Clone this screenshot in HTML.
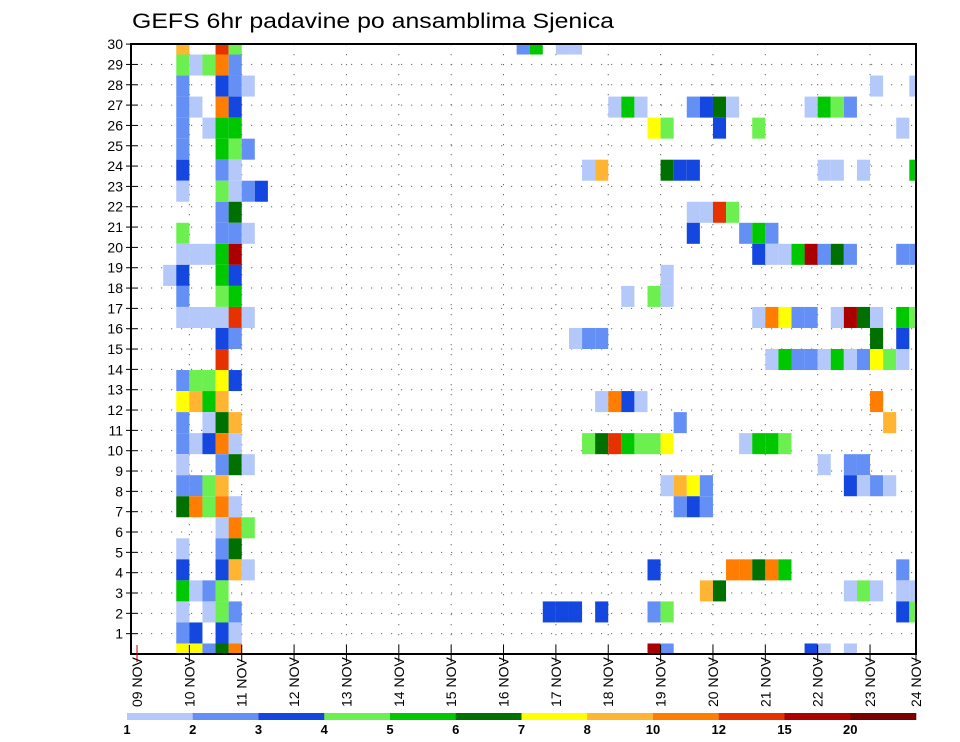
<!DOCTYPE html>
<html><head><meta charset="utf-8"><style>
html,body{margin:0;padding:0;background:#fff;}
svg{display:block;font-family:"Liberation Sans","DejaVu Sans",sans-serif;}
</style></head><body>
<svg id="chart" width="960" height="742" viewBox="0 0 960 742" xmlns="http://www.w3.org/2000/svg">
<text x="132" y="28" font-size="21" fill="#000" textLength="482" lengthAdjust="spacingAndGlyphs">GEFS 6hr padavine po ansamblima Sjenica</text>
<g id="grid"></g>
<g id="cells"></g>
<g id="axes"></g>
<g id="legend"></g>
</svg>
<script>
// ---- data ----
const members = ["30","29","28","27","26","25","24","23","22","21","20","19","18","17","16","15","14","13","12","11","10","9","8","7","6","5","4","3","2","1"];
const dayLabels = ["09 NOV","10 NOV","11 NOV","12 NOV","13 NOV","14 NOV","15 NOV","16 NOV","17 NOV","18 NOV","19 NOV","20 NOV","21 NOV","22 NOV","23 NOV","24 NOV"];
const legendLabels = ["1","2","3","4","5","6","7","8","10","12","15","20"];
const levelColors = ["#b4c8fa","#6490f5","#1446e0","#6cf050","#00c800","#007000","#ffff00","#ffb432","#ff7d00","#e63200","#aa0000","#780000"];
const levelCodes = "123456789ABC";
// each row (top to bottom): "timestep:level" pairs, timestep = 6-hourly index from 09 NOV 00z
const rows = [
"3:8 6:A 7:4 29:2 30:5 32:1 33:1",
"3:4 4:1 5:4 6:9 7:2",
"3:2 6:3 7:2 8:1 56:1 59:1",
"3:2 4:1 6:9 7:3 36:1 37:5 38:1 42:2 43:3 44:6 45:1 51:1 52:5 53:4 54:2",
"3:2 5:1 6:5 7:5 39:7 40:4 44:3 47:4 58:1",
"3:2 6:5 7:4 8:2",
"3:3 6:2 7:1 34:1 35:8 40:6 41:3 42:3 52:1 53:1 55:1 59:5",
"3:1 6:4 7:1 8:2 9:3",
"6:2 7:6 42:1 43:1 44:A 45:4",
"3:4 6:2 7:2 8:1 42:3 46:2 47:5 48:2",
"3:1 4:1 5:1 6:5 7:B 47:3 48:1 49:1 50:5 51:B 52:2 53:6 54:2 58:2 59:2",
"2:1 3:3 6:5 7:3 40:1",
"3:2 6:4 7:5 37:1 39:4 40:1",
"3:1 4:1 5:1 6:1 7:A 8:1 47:1 48:9 49:7 50:2 51:2 53:1 54:B 55:6 56:1 58:5 59:4",
"6:3 7:2 33:1 34:2 35:2 56:6 58:3",
"6:A 48:1 49:5 50:2 51:2 52:1 53:5 54:1 55:2 56:7 57:4 58:1",
"3:2 4:4 5:4 6:7 7:3",
"3:7 4:8 5:5 6:8 35:1 36:9 37:3 38:1 56:9",
"3:2 5:1 6:6 7:8 41:2 57:8",
"3:2 4:1 5:3 6:9 7:1 34:4 35:6 36:A 37:5 38:4 39:4 40:7 46:1 47:5 48:5 49:4",
"3:1 6:2 7:6 8:1 52:1 54:2 55:2",
"3:2 4:2 5:4 6:8 40:1 41:8 42:7 43:2 54:3 55:1 56:2 57:1",
"3:6 4:9 5:4 6:9 7:1 41:2 42:3 43:2",
"6:1 7:9 8:4",
"3:1 6:2 7:6",
"3:3 6:3 7:8 8:1 39:3 45:9 46:9 47:6 48:9 49:5 58:2",
"3:5 4:1 5:2 6:4 43:8 44:6 54:1 55:4 56:1 58:1 59:1",
"3:1 5:1 6:4 7:2 31:3 32:3 33:3 35:3 39:2 40:4 58:3 59:4",
"3:2 4:3 6:3 7:1",
"3:7 4:7 5:2 6:6 7:9 39:B 40:2 51:3 52:1 54:1"
];

// ---- layout ----
const NS = "http://www.w3.org/2000/svg";
const L = 131, R = 916, T = 44, B = 654;
const x0 = 137, stepW = 13.09, dayW = 52.36;
const rowH = (B - T) / (rows.length - 1);
function xStep(k){ return x0 + stepW * k; }
function xDay(d){ return Math.min(x0 + dayW * d, R); }
function yRow(j){ return T + rowH * j; }
function yLabel(i){ return B - 20.33 * (members.length - i); }
function mk(tag, attrs, parent){
  const e = document.createElementNS(NS, tag);
  for (const k in attrs) e.setAttribute(k, attrs[k]);
  parent.appendChild(e); return e;
}
const grid = document.getElementById('grid');
const cells = document.getElementById('cells');
const axes = document.getElementById('axes');
const legend = document.getElementById('legend');

// gridlines
members.forEach((m, i) => {
  const y = yLabel(i);
  if (i > 0) {
    const g = mk('line', {x1:L, x2:R, y1:y, y2:y, stroke:'#666', 'stroke-width':1, 'stroke-dasharray':'1.2 8.8'}, grid);
    
    
  }
});
dayLabels.forEach((d, i) => {
  if (i === 0 || i === dayLabels.length - 1) return;
  const x = xDay(i);
  const g = mk('line', {x1:x, x2:x, y1:T, y2:B, stroke:'#666', 'stroke-width':1, 'stroke-dasharray':'1.2 8.8'}, grid);
  
  
});

// cells
rows.forEach((r, j) => {
  r.split(' ').forEach(p => {
    const [ks, c] = p.split(':');
    const k = +ks;
    const lvl = levelCodes.indexOf(c);
    let xa = Math.max(xStep(k), L), xb = Math.min(xStep(k + 1), R);
    let ya = Math.max(yRow(j) - rowH / 2, T), yb = Math.min(yRow(j) + rowH / 2, B);
    const rect = mk('rect', {x:xa, y:ya, width:xb - xa, height:yb - ya, fill:levelColors[lvl]}, cells);
    
    
  });
});

// frame
const frame = mk('rect', {x:L, y:T, width:R - L, height:B - T, fill:'none', stroke:'#000', 'stroke-width':2}, axes);



// y labels and ticks
members.forEach((m, i) => {
  const y = yLabel(i);
  const t = mk('line', {x1:126, x2:138, y1:y, y2:y, stroke:'#000', 'stroke-width':1}, axes);
  
  
  const tx = mk('text', {x:123, y:y + 5, 'font-size':14, 'text-anchor':'end', fill:'#000'}, axes);
  
  
  tx.textContent = m;
});

// x labels and ticks
dayLabels.forEach((d, i) => {
  const x = (i === dayLabels.length - 1) ? R : x0 + dayW * i;
  const t = mk('line', {x1:x, x2:x, y1:645, y2:662, stroke: i === 0 ? '#c00' : '#000', 'stroke-width':1}, axes);
  
  
  const tx = mk('text', {x:0, y:0, 'font-size':14, 'text-anchor':'start', fill:'#000', transform:`translate(${x + 5},707) rotate(-90)`}, axes);
  
  
  tx.textContent = d;
});

// legend
const lx0 = 127, lx1 = 916, lw = (lx1 - lx0) / levelColors.length;
levelColors.forEach((c, i) => {
  const r = mk('rect', {x:lx0 + lw * i, y:713, width:lw + 0.3, height:7, fill:c}, legend);
  
  
});
legendLabels.forEach((l, i) => {
  const tx = mk('text', {x:lx0 + lw * i, y:734, 'font-size':13, 'font-weight':'bold', 'text-anchor':'middle', fill:'#000'}, legend);
  
  
  tx.textContent = l;
});
</script>
</body></html>
